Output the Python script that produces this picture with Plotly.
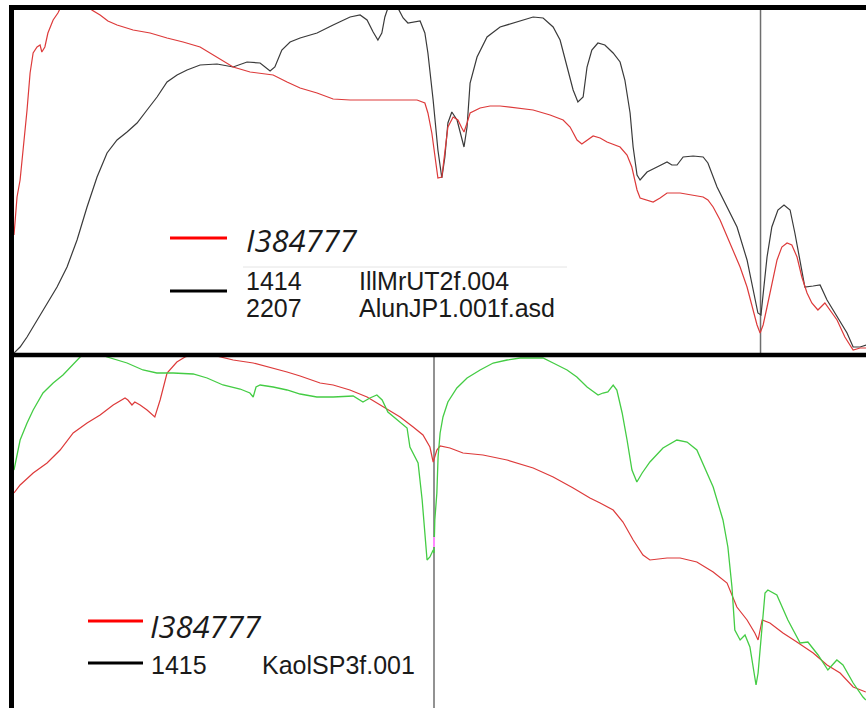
import plotly.graph_objects as go

W, H = 866, 708

# ---------------- Top panel data (wavelength nm, relative reflectance) ----------------
top_red_wl = [450, 457, 464, 471, 480, 487, 494, 503, 510, 514, 521, 528, 540, 551, 560, 590,
              620, 629, 648, 666, 687, 724, 763, 802, 839, 878, 917, 954, 993, 1032, 1046, 1078,
              1108, 1147, 1184, 1223, 1299, 1377, 1395, 1402, 1411, 1418, 1425, 1434, 1441, 1448,
              1460, 1471, 1480, 1485, 1492, 1499, 1522, 1545, 1568, 1607, 1644, 1683, 1713, 1729,
              1745, 1756, 1768, 1782, 1798, 1814, 1844, 1860, 1871, 1883, 1890, 1906, 1920, 1936,
              1952, 1982, 2012, 2035, 2046, 2058, 2074, 2090, 2104, 2120, 2136, 2150, 2159, 2166,
              2173, 2182, 2193, 2205, 2216, 2228, 2239, 2251, 2262, 2274, 2285, 2299, 2315, 2327,
              2343, 2361, 2380, 2396, 2410]
top_red_r = [0.354, 0.468, 0.519, 0.609, 0.729, 0.840, 0.900, 0.918, 0.924, 0.903, 0.918, 0.960,
             0.999, 1.020, 1.044, 1.074, 1.044, 1.029, 1.014, 0.996, 0.984, 0.969, 0.960, 0.945,
             0.933, 0.918, 0.888, 0.858, 0.843, 0.837, 0.834, 0.813, 0.795, 0.780, 0.762, 0.759,
             0.759, 0.759, 0.750, 0.720, 0.660, 0.588, 0.525, 0.528, 0.600, 0.678, 0.708, 0.699,
             0.675, 0.663, 0.690, 0.720, 0.735, 0.741, 0.741, 0.735, 0.729, 0.714, 0.699, 0.678,
             0.639, 0.627, 0.639, 0.651, 0.645, 0.633, 0.618, 0.594, 0.558, 0.489, 0.465, 0.459,
             0.453, 0.465, 0.480, 0.480, 0.474, 0.468, 0.459, 0.438, 0.399, 0.348, 0.309, 0.258,
             0.198, 0.129, 0.084, 0.060, 0.084, 0.138, 0.210, 0.279, 0.318, 0.330, 0.324, 0.288,
             0.228, 0.180, 0.150, 0.129, 0.150, 0.129, 0.099, 0.048, 0.009, 0.015, 0.015]

top_black_wl = [450, 464, 480, 503, 526, 549, 572, 595, 618, 641, 664, 687, 710, 733, 756, 779,
                802, 825, 848, 878, 917, 954, 986, 1016, 1039, 1050, 1066, 1085, 1108, 1147, 1184,
                1223, 1246, 1262, 1276, 1287, 1296, 1303, 1310, 1322, 1333, 1345, 1356, 1372, 1384,
                1395, 1402, 1414, 1425, 1434, 1441, 1448, 1457, 1469, 1480, 1485, 1492, 1499, 1515,
                1538, 1568, 1607, 1644, 1667, 1690, 1706, 1722, 1736, 1747, 1759, 1768, 1779, 1793,
                1809, 1828, 1844, 1855, 1867, 1874, 1883, 1890, 1906, 1929, 1952, 1963, 1975, 1989,
                2012, 2035, 2046, 2067, 2090, 2113, 2136, 2150, 2161, 2168, 2173, 2182, 2193, 2207,
                2221, 2235, 2246, 2258, 2269, 2288, 2304, 2320, 2343, 2366, 2380, 2396, 2410]
top_black_r = [0.000, 0.018, 0.048, 0.099, 0.150, 0.198, 0.258, 0.339, 0.438, 0.528, 0.600, 0.639,
               0.663, 0.690, 0.729, 0.768, 0.813, 0.834, 0.849, 0.864, 0.867, 0.858, 0.873, 0.870,
               0.846, 0.858, 0.909, 0.933, 0.945, 0.960, 0.984, 1.008, 1.014, 0.999, 0.963, 0.939,
               0.960, 1.008, 1.035, 1.059, 1.035, 1.005, 0.990, 0.993, 0.996, 0.960, 0.900, 0.759,
               0.609, 0.525, 0.588, 0.690, 0.723, 0.699, 0.639, 0.618, 0.678, 0.810, 0.888, 0.948,
               0.978, 0.993, 1.008, 1.005, 0.978, 0.939, 0.858, 0.789, 0.753, 0.768, 0.858, 0.909,
               0.930, 0.924, 0.900, 0.873, 0.819, 0.720, 0.618, 0.534, 0.519, 0.543, 0.558, 0.573,
               0.564, 0.564, 0.588, 0.591, 0.588, 0.570, 0.498, 0.438, 0.378, 0.279, 0.189, 0.120,
               0.114, 0.180, 0.288, 0.378, 0.429, 0.444, 0.429, 0.360, 0.270, 0.198, 0.201, 0.204,
               0.159, 0.108, 0.060, 0.018, 0.018, 0.024]

# ---------------- Bottom panel data ----------------
bot_green_wl = [380, 395, 412, 427, 451, 476, 500, 522, 542, 571, 608, 657, 696, 730, 770, 819,
                853, 892, 934, 958, 966, 973, 983, 1015, 1049, 1081, 1122, 1162, 1211, 1235, 1252,
                1269, 1282, 1296, 1326, 1343, 1350, 1362, 1370, 1380, 1387, 1392, 1399, 1407, 1409,
                1411, 1416, 1419, 1424, 1431, 1443, 1465, 1490, 1522, 1554, 1588, 1620, 1652, 1676,
                1701, 1735, 1759, 1784, 1811, 1823, 1835, 1848, 1857, 1870, 1882, 1894, 1906, 1919,
                1938, 1970, 2004, 2029, 2053, 2078, 2093, 2117, 2129, 2139, 2146, 2159, 2171, 2183,
                2198, 2203, 2213, 2220, 2227, 2249, 2276, 2306, 2325, 2350, 2374, 2396, 2411, 2436,
                2460, 2467]
bot_green_r = [0.714, 0.804, 0.855, 0.894, 0.945, 0.975, 0.999, 1.029, 1.053, 1.074, 1.053, 1.035,
               1.014, 1.005, 1.005, 1.002, 0.990, 0.969, 0.957, 0.945, 0.933, 0.963, 0.969, 0.963,
               0.954, 0.942, 0.933, 0.933, 0.936, 0.918, 0.930, 0.939, 0.924, 0.888, 0.858, 0.840,
               0.783, 0.753, 0.735, 0.624, 0.504, 0.444, 0.453, 0.474, 0.465, 0.564, 0.645, 0.753,
               0.825, 0.873, 0.918, 0.960, 0.990, 1.014, 1.035, 1.044, 1.050, 1.050, 1.050, 1.035,
               1.014, 0.993, 0.963, 0.939, 0.945, 0.948, 0.969, 0.954, 0.885, 0.804, 0.714, 0.678,
               0.705, 0.738, 0.780, 0.804, 0.798, 0.774, 0.705, 0.663, 0.564, 0.483, 0.363, 0.234,
               0.204, 0.219, 0.183, 0.069, 0.105, 0.243, 0.345, 0.354, 0.339, 0.264, 0.195, 0.198,
               0.159, 0.114, 0.144, 0.129, 0.075, 0.033, 0.024]

bot_red_wl = [380, 395, 427, 461, 493, 525, 559, 591, 623, 652, 659, 669, 676, 689, 706, 725, 738,
              755, 779, 799, 836, 885, 917, 966, 1015, 1049, 1081, 1130, 1162, 1203, 1245, 1284,
              1326, 1358, 1382, 1399, 1407, 1416, 1424, 1448, 1480, 1529, 1588, 1652, 1701, 1750,
              1791, 1816, 1848, 1872, 1897, 1921, 1938, 1980, 2012, 2053, 2093, 2127, 2151, 2176,
              2195, 2203, 2213, 2232, 2264, 2298, 2338, 2372, 2404, 2436, 2467]
bot_red_r = [0.645, 0.669, 0.705, 0.735, 0.774, 0.825, 0.855, 0.879, 0.909, 0.930, 0.924, 0.909,
             0.918, 0.909, 0.894, 0.873, 0.924, 1.005, 1.038, 1.053, 1.068, 1.053, 1.044, 1.035,
             1.020, 1.008, 0.996, 0.975, 0.969, 0.954, 0.933, 0.903, 0.873, 0.843, 0.819, 0.783,
             0.738, 0.774, 0.786, 0.780, 0.765, 0.759, 0.744, 0.720, 0.693, 0.660, 0.630, 0.615,
             0.594, 0.558, 0.504, 0.459, 0.444, 0.450, 0.450, 0.438, 0.408, 0.375, 0.303, 0.264,
             0.225, 0.204, 0.264, 0.255, 0.225, 0.198, 0.165, 0.129, 0.105, 0.063, 0.048]

# cursor marker on the kaolinite curve
cursor_wl = [1409, 1409]
cursor_r = [0.513, 0.483]

top_cursor_nm = 2167
bot_cursor_nm = 1409

top_labels = [("I384777", "", ""), ("", "1414", "IllMrUT2f.004"), ("", "2207", "AlunJP1.001f.asd")]
bot_labels = [("I384777", "", ""), ("", "1415", "KaolSP3f.001")]

RED = "#dd3a3a"
BLACK = "#3a3a3a"
GREEN = "#44cc44"

fig = go.Figure()
fig.add_trace(go.Scatter(x=top_black_wl, y=top_black_r, mode="lines",
                         line=dict(color=BLACK, width=1.2), xaxis="x", yaxis="y"))
fig.add_trace(go.Scatter(x=top_red_wl, y=top_red_r, mode="lines",
                         line=dict(color=RED, width=1.2), xaxis="x", yaxis="y"))
fig.add_trace(go.Scatter(x=bot_red_wl, y=bot_red_r, mode="lines",
                         line=dict(color=RED, width=1.2), xaxis="x2", yaxis="y2"))
fig.add_trace(go.Scatter(x=bot_green_wl, y=bot_green_r, mode="lines",
                         line=dict(color=GREEN, width=1.3), xaxis="x2", yaxis="y2"))
fig.add_trace(go.Scatter(x=cursor_wl, y=cursor_r, mode="lines",
                         line=dict(color="#ff88ff", width=2), xaxis="x2", yaxis="y2"))

ax = dict(visible=False, showgrid=False, zeroline=False, fixedrange=True)
px_l = 14 / W
fig.update_layout(
    width=W, height=H, margin=dict(l=0, r=0, t=0, b=0),
    paper_bgcolor="white", plot_bgcolor="white", showlegend=False,
    xaxis=dict(domain=[px_l, 1], range=[450, 2409.6], anchor="y", **ax),
    yaxis=dict(domain=[1 - 353 / H, 1 - 10 / H], range=[0, 1.029], anchor="x", **ax),
    xaxis2=dict(domain=[px_l, 1], range=[380, 2467.4], anchor="y2", **ax),
    yaxis2=dict(domain=[0, 1 - 357 / H], range=[0, 1.053], anchor="x2", **ax),
)

# cursor lines
fig.add_shape(type="line", xref="x", yref="y domain", x0=top_cursor_nm, x1=top_cursor_nm,
              y0=0, y1=1, line=dict(color="#6e6e6e", width=1.5), layer="below")
fig.add_shape(type="line", xref="x2", yref="y2 domain", x0=bot_cursor_nm, x1=bot_cursor_nm,
              y0=0, y1=1, line=dict(color="#6e6e6e", width=1.5), layer="below")

def px(x):
    return x / W

def py(y):
    return 1 - y / H

# frame
fig.add_shape(type="line", xref="paper", yref="paper", x0=px(9), x1=1, y0=py(7.5), y1=py(7.5),
              line=dict(color="black", width=5))
fig.add_shape(type="line", xref="paper", yref="paper", x0=px(9), x1=1, y0=py(355), y1=py(355),
              line=dict(color="black", width=4.5))
fig.add_shape(type="line", xref="paper", yref="paper", x0=px(11.5), x1=px(11.5), y0=0, y1=py(5),
              line=dict(color="black", width=5))

# legends
def legend_line(x0, x1, y, color):
    fig.add_shape(type="line", xref="paper", yref="paper", x0=px(x0), x1=px(x1), y0=py(y), y1=py(y),
                  line=dict(color=color, width=3))

def label(x, y, text, italic=False, size=25):
    fig.add_annotation(xref="paper", yref="paper", x=px(x), y=py(y), text=text, showarrow=False,
                       xanchor="left", yanchor="middle",
                       font=dict(family="Open Sans" if italic else "Liberation Sans, Arial",
                                 size=size, color="#1a1a1a", style="italic" if italic else "normal"))

legend_line(170, 227, 238, "#ff0000")
label(244, 240, top_labels[0][0], italic=True, size=31)
fig.add_shape(type="line", xref="paper", yref="paper", x0=px(243), x1=px(567), y0=py(267), y1=py(267),
              line=dict(color="#e4e4e4", width=1))
legend_line(170, 227, 291, "#000000")
label(244, 281, top_labels[1][1]); label(357, 281, top_labels[1][2])
label(244, 308, top_labels[2][1]); label(357, 308, top_labels[2][2])

legend_line(88, 143, 621, "#ff0000")
label(148, 626, bot_labels[0][0], italic=True, size=31)
legend_line(88, 143, 663, "#000000")
label(149, 665, bot_labels[1][1]); label(260, 665, bot_labels[1][2])

fig.write_html("out.html", config={"displayModeBar": False, "staticPlot": True},
               post_script="document.body.style.margin='0';document.body.style.padding='0';")
